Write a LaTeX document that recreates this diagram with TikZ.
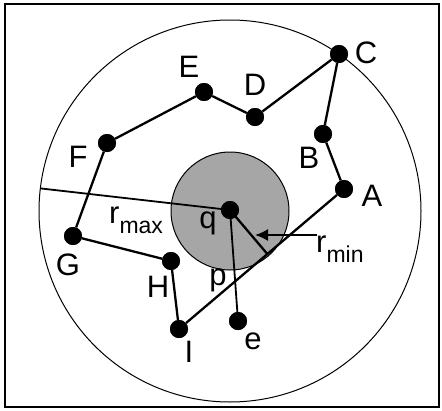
\documentclass[tikz,border=0pt]{standalone}
\usepackage{fontspec}
\setmainfont{Liberation Sans}
\usetikzlibrary{calc,arrows.meta}
\definecolor{graycol}{RGB}{166,166,166}
\newcommand{\subfnt}{\fontsize{23}{23}\selectfont}
\begin{document}
\begin{tikzpicture}[x=1pt,y=-1pt,
  dot/.style={circle,fill=black,inner sep=0pt,minimum size=18pt},
  lbl/.style={anchor=base,inner sep=0pt,font=\fontsize{31}{31}\selectfont},
  lblw/.style={anchor=base west,inner sep=0pt,font=\fontsize{31}{31}\selectfont},
  edge/.style={line width=2.3pt},
  thin ring/.style={line width=1pt}]
\useasboundingbox (0,0) rectangle (442,410);
\draw[line width=1.5pt] (5,4) rectangle (439,407);
\coordinate (ctr) at (230,211);
\draw[thin ring] (ctr) circle[radius=191];
\draw[thin ring,fill=graycol] (ctr) circle[radius=59];
% points
\node[dot] (q) at (230,210) {};
\node[dot] (C) at (339,54) {};
\node[dot] (D) at (255,117) {};
\node[dot] (E) at (204,92) {};
\node[dot] (F) at (107,143) {};
\node[dot] (G) at (73,236) {};
\node[dot] (H) at (171,261) {};
\node[dot] (I) at (179,329) {};
\node[dot] (A) at (344,189) {};
\node[dot] (B) at (323,134) {};
\node[dot] (e) at (238,321) {};
\coordinate (rmaxend) at ($(ctr)+(186.8:191)$);
\coordinate (foot) at ($(I)!(q)!(A)$);
\coordinate (arrtail) at (317,235);
\coordinate (arrtip) at (255,235);
% connectors
\draw[edge] (C) -- (D) -- (E) -- (F) -- (G) -- (H) -- (I) -- (A) -- (B) -- (C);
\draw[line width=1.8pt] (q.center) -- (rmaxend);
\draw[line width=1.8pt] (q.center) -- (e.center);
\draw[edge] (q.center) -- (foot);
\draw[line width=1.8pt,-{Latex[length=13pt,width=12pt]}] (arrtail) -- (arrtip);
% redraw dots on top
\foreach \n in {q,C,D,E,F,G,H,I,A,B,e} \fill (\n) circle[radius=9];
% labels
\node[lbl] (lC) at (366,63) {C};
\node[lbl] (lE) at (189,77) {E};
\node[lbl] (lD) at (255,95) {D};
\node[lbl] (lF) at (78,167) {F};
\node[lbl] (lB) at (309,168) {B};
\node[lbl] (lA) at (372,206) {A};
\node[lbl] (lG) at (68,275) {G};
\node[lbl] (lH) at (158,297) {H};
\node[lbl] (lI) at (189,362) {I};
\node[lbl] (le) at (253,349) {e};
\node[lbl] (lp) at (218,285) {p};
\node[lbl] (lq) at (208,228) {q};
\node[lblw] (lrmax) at (109,223) {r\raisebox{-10pt}{\subfnt max}};
\node[lblw] (lrmin) at (316,252) {r\raisebox{-10pt}{\subfnt min}};
\end{tikzpicture}
\end{document}
